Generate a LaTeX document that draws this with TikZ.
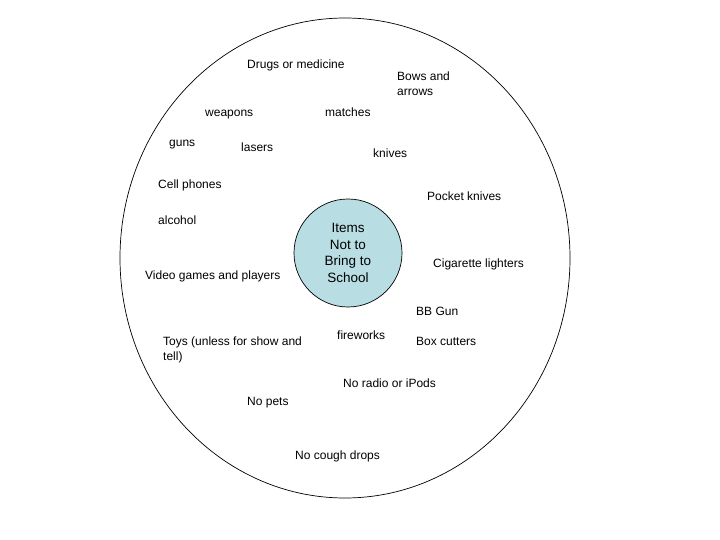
\documentclass[tikz,border=0pt]{standalone}
\usepackage{fontspec}
\setmainfont{Liberation Sans}
\usetikzlibrary{positioning}
\definecolor{hubblue}{RGB}{184,222,228}

\tikzset{
  thing/.style={anchor=base west,inner sep=0pt,align=left,
    font=\fontsize{12}{15}\selectfont},
  hubnode/.style={circle,draw,line width=0.7pt,fill=hubblue,
    minimum size=108pt,inner sep=0pt,align=center,
    font=\fontsize{13.5}{16.7}\selectfont}
}

\begin{document}
\begin{tikzpicture}[x=1pt,y=-1pt]
\useasboundingbox (0,0) rectangle (720,540);

% Outer ring
\draw[line width=0.7pt] (345,258) ellipse [x radius=225,y radius=240];

% Centre
\node[hubnode] (hub) at (348,253) {Items\\Not to\\Bring to\\School};

% Top part
\node[thing] (drugs) at (247,69) {Drugs or medicine};
\node[thing] (bows) at (397,96) {Bows and\\arrows};
\node[thing] (weapons) at (205,117) {weapons};
\node[thing] (matches) at (325,117) {matches};
\node[thing] (guns) at (169,147) {guns};
\node[thing] (lasers) at (241,152) {lasers};
\node[thing] (knives) at (373,158) {knives};

% Middle part
\node[thing] (cell) at (158,189) {Cell phones};
\node[thing] (pocket) at (427,201) {Pocket knives};
\node[thing] (alcohol) at (158,225) {alcohol};
\node[thing] (lighters) at (433,267) {Cigarette lighters};
\node[thing] (video) at (145,279) {Video games and players};

% Bottom part
\node[thing] (bbgun) at (416,315) {BB Gun};
\node[thing] (fireworks) at (337,339) {fireworks};
\node[thing] (cutters) at (416,345) {Box cutters};
\node[thing] (toys) at (163,360) {Toys (unless for show and\\tell)};
\node[thing] (radio) at (343,387) {No radio or iPods};
\node[thing] (pets) at (247,405) {No pets};
\node[thing] (cough) at (295,459) {No cough drops};

\end{tikzpicture}
\end{document}
